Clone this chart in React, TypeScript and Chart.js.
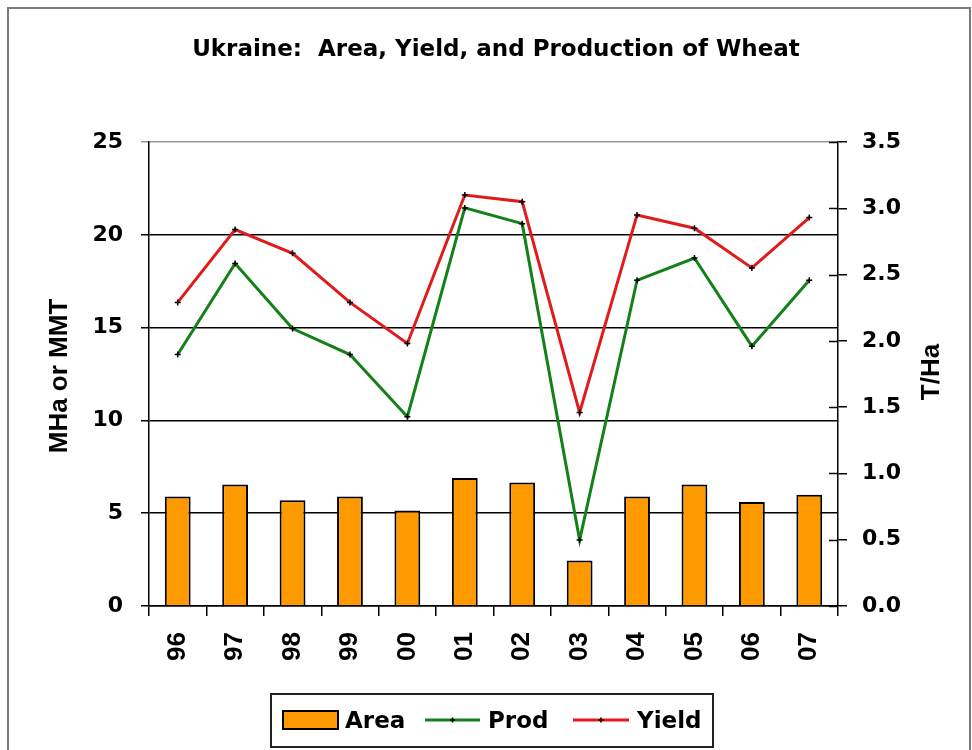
import React, { useEffect, useRef } from "react";
import { Chart, registerables } from "chart.js";

Chart.register(...registerables);

const categories = ["96", "97", "98", "99", "00", "01", "02", "03", "04", "05", "06", "07"];
const areaValues = [5.9, 6.55, 5.7, 5.9, 5.15, 6.9, 6.65, 2.45, 5.9, 6.55, 5.6, 6.0];
const prodValues = [13.55, 18.45, 14.95, 13.55, 10.2, 21.45, 20.6, 3.55, 17.55, 18.75, 14.0, 17.55];
const yieldValues = [2.29, 2.84, 2.66, 2.29, 1.98, 3.1, 3.05, 1.46, 2.95, 2.85, 2.55, 2.93];
const leftTicks = [0, 5, 10, 15, 20, 25];
const rightTicks = [0, 0.5, 1.0, 1.5, 2.0, 2.5, 3.0, 3.5];

const titleText = "Ukraine:  Area, Yield, and Production of Wheat";
const leftTitle = "MHa or MMT";
const rightTitle = "T/Ha";
const legendLabels = ["Area", "Prod", "Yield"];

const ORANGE = "#FF9900";
const GREEN = "#14801a";
const RED = "#E01B1B";

const decorPlugin = {
  id: "decor",
  afterDraw(chart: any) {
    const ctx = chart.ctx;
    ctx.save();
    // outer border
    ctx.strokeStyle = "#7a7a7a";
    ctx.lineWidth = 2;
    ctx.strokeRect(8, 8, 962, 770);

    // title
    ctx.fillStyle = "#000";
    ctx.font = 'bold 23px "DejaVu Sans"';
    ctx.textAlign = "center";
    ctx.textBaseline = "alphabetic";
    ctx.fillText(titleText, 496, 56);

    // axis titles
    ctx.font = 'bold 26px "Liberation Sans"';
    ctx.textBaseline = "middle";
    ctx.save();
    ctx.translate(60, 376);
    ctx.rotate(-Math.PI / 2);
    ctx.fillText(leftTitle, 0, 0);
    ctx.restore();
    ctx.save();
    ctx.translate(932, 372);
    ctx.rotate(-Math.PI / 2);
    ctx.fillText(rightTitle, 0, 0);
    ctx.restore();

    // inner half of right-axis tick marks
    const s = chart.scales.y1;
    ctx.strokeStyle = "#000";
    ctx.lineWidth = 1.5;
    s.ticks.forEach((t: any) => {
      const y = Math.round(s.getPixelForValue(t.value)) + 0.5;
      ctx.beginPath();
      ctx.moveTo(s.left - 9, y);
      ctx.lineTo(s.left, y);
      ctx.stroke();
    });

    // legend
    ctx.strokeStyle = "#222";
    ctx.lineWidth = 2;
    ctx.strokeRect(271, 694, 442, 53);
    ctx.fillStyle = ORANGE;
    ctx.fillRect(283, 711, 55, 18);
    ctx.strokeStyle = "#000";
    ctx.lineWidth = 2;
    ctx.strokeRect(283, 711, 55, 18);

    const drawLineSym = (x1: number, x2: number, color: string) => {
      ctx.strokeStyle = color;
      ctx.lineWidth = 3;
      ctx.beginPath();
      ctx.moveTo(x1, 720);
      ctx.lineTo(x2, 720);
      ctx.stroke();
      const cx = (x1 + x2) / 2;
      ctx.strokeStyle = "#000";
      ctx.lineWidth = 1.5;
      ctx.beginPath();
      ctx.moveTo(cx - 2.5, 720);
      ctx.lineTo(cx + 2.5, 720);
      ctx.moveTo(cx, 717.5);
      ctx.lineTo(cx, 722.5);
      ctx.stroke();
    };
    drawLineSym(425, 480, GREEN);
    drawLineSym(573, 629, RED);

    ctx.fillStyle = "#000";
    ctx.font = 'bold 23px "DejaVu Sans"';
    ctx.textAlign = "left";
    ctx.textBaseline = "alphabetic";
    ctx.fillText(legendLabels[0], 345, 728);
    ctx.fillText(legendLabels[1], 488, 728);
    ctx.fillText(legendLabels[2], 637, 728);
    ctx.restore();
  },
};

export default function App() {
  const ref = useRef<HTMLCanvasElement | null>(null);

  useEffect(() => {
    const canvas = ref.current;
    if (!canvas) return;
    const lineCommon = {
      type: "line",
      yAxisID: "y",
      borderWidth: 3,
      tension: 0,
      pointStyle: "cross",
      pointRadius: 3,
      pointBackgroundColor: "#000",
      pointBorderColor: "#000",
      pointBorderWidth: 1.5,
      order: 0,
    };
    const chart = new Chart(canvas, {
      type: "bar",
      data: {
        labels: categories,
        datasets: [
          {
            ...lineCommon,
            label: legendLabels[1],
            data: prodValues,
            yAxisID: "y",
            borderColor: GREEN,
          } as any,
          {
            ...lineCommon,
            label: legendLabels[2],
            data: yieldValues,
            yAxisID: "y1",
            borderColor: RED,
          } as any,
          {
            type: "bar",
            label: legendLabels[0],
            data: areaValues,
            yAxisID: "y",
            backgroundColor: ORANGE,
            borderColor: "#000",
            borderWidth: 2,
            barPercentage: 0.45,
            categoryPercentage: 1,
            order: 1,
          } as any,
        ],
      },
      options: {
        animation: false,
        responsive: false,
        maintainAspectRatio: false,
        layout: { padding: { top: 142, left: 0, right: 0, bottom: 0 } },
        plugins: {
          legend: { display: false },
          title: { display: false },
          tooltip: { enabled: false },
        },
        scales: {
          x: {
            position: "bottom",
            offset: true,
            afterFit: (s: any) => {
              s.height = 144;
            },
            grid: {
              display: true,
              offset: true,
              drawOnChartArea: false,
              drawTicks: true,
              tickLength: 10,
              color: "#000",
              lineWidth: 1.5,
            },
            border: { display: true, color: "#000", width: 1.5 },
            ticks: {
              color: "#000",
              font: { family: "Liberation Sans", weight: "bold", size: 26 },
              minRotation: 90,
              maxRotation: 90,
              padding: 16,
              autoSkip: false,
            },
          },
          y: {
            position: "left",
            min: 0,
            max: 25,
            afterFit: (s: any) => {
              s.width = 149;
            },
            afterBuildTicks: (s: any) => {
              s.ticks = leftTicks.map((v) => ({ value: v }));
            },
            grid: {
              display: true,
              drawOnChartArea: true,
              drawTicks: true,
              tickLength: 8,
              color: (c: any) => (c.tick && c.tick.value === 25 ? "#9a9a9a" : "#000"),
              lineWidth: 1.5,
            },
            border: { display: true, color: "#000", width: 1.5 },
            ticks: {
              color: "#000",
              font: { family: "DejaVu Sans", weight: "bold", size: 22 },
              padding: 18,
            },
          },
          y1: {
            position: "right",
            min: 0,
            max: 3.5,
            afterFit: (s: any) => {
              s.width = 134;
            },
            afterBuildTicks: (s: any) => {
              s.ticks = rightTicks.map((v) => ({ value: v }));
            },
            grid: {
              display: true,
              drawOnChartArea: false,
              drawTicks: true,
              tickLength: 9,
              color: "#000",
              lineWidth: 1.5,
            },
            border: { display: true, color: "#000", width: 1.5 },
            ticks: {
              color: "#000",
              font: { family: "DejaVu Sans", weight: "bold", size: 22 },
              padding: 15,
              callback: (v: any) => Number(v).toFixed(1),
            },
          },
        },
      },
      plugins: [decorPlugin],
    });
    return () => chart.destroy();
  }, []);

  return (
    <div
      style={{
        position: "absolute",
        left: 0,
        top: 0,
        width: 972,
        height: 750,
        background: "#fff",
      }}
    >
      <canvas ref={ref} width={972} height={750} style={{ width: 972, height: 750, display: "block" }} />
    </div>
  );
}
